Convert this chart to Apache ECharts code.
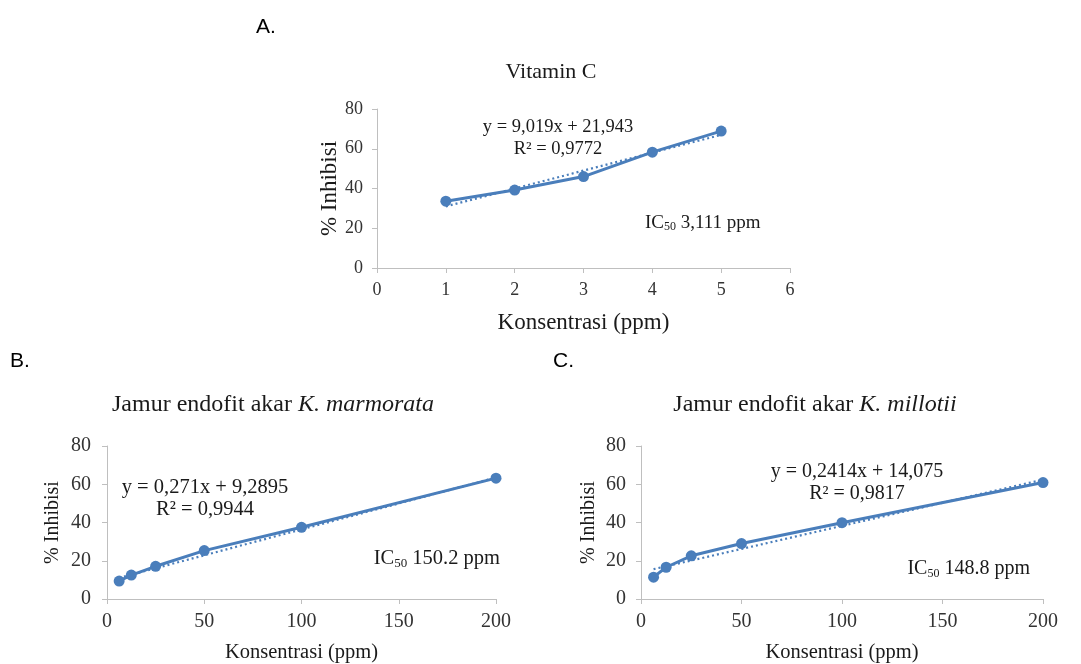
<!DOCTYPE html>
<html>
<head>
<meta charset="utf-8">
<script src="https://cdn.jsdelivr.net/npm/echarts@6/dist/echarts.min.js"></script>
<style>
  html, body { margin: 0; padding: 0; background: #fff; }
  #chart { width: 1081px; height: 664px; }
</style>
</head>
<body>
<div id="chart"></div>
<script>
// --- data ---
const vitCX = [1, 2, 3, 4, 5];
const vitCY = [33.6, 39.2, 46.0, 58.3, 68.9];
const vitCTrend = [[1, 31.0], [5, 67.0]];

const konsX = [6.25, 12.5, 25, 50, 100, 200];
const marmorataY = [9.4, 12.5, 17.1, 25.3, 37.5, 63.2];
const marmorataTrend = [[6.25, 11.0], [200, 63.5]];
const millotiiY = [11.4, 16.6, 22.6, 29.0, 39.9, 60.9];
const millotiiTrend = [[6.25, 15.6], [200, 62.4]];

const yTicks = [0, 20, 40, 60, 80];

const blue = '#4a7ebb';
const serif = '"Liberation Serif", "Times New Roman", serif';
const sans = '"Liberation Sans", Arial, sans-serif';

const pairs = (xs, ys) => xs.map((x, i) => [x, ys[i]]);

const xAxisBase = (gridIndex, max, interval, size, nameSize, gap, margin) => ({
    type: 'value',
    gridIndex: gridIndex,
    min: 0,
    max: max,
    interval: interval,
    name: 'Konsentrasi (ppm)',
    nameLocation: 'middle',
    nameGap: gap,
    nameTextStyle: { fontFamily: serif, fontSize: nameSize, color: '#1a1a1a' },
    splitLine: { show: false },
    axisLine: { onZero: false, lineStyle: { color: '#bfbfbf', width: 1 } },
    axisTick: { show: true, length: 5, lineStyle: { color: '#bfbfbf' } },
    axisLabel: { fontFamily: serif, fontSize: size, color: '#333', margin: margin }
});

const yAxisBase = (gridIndex, size, nameSize, gap, margin) => ({
    type: 'value',
    gridIndex: gridIndex,
    min: 0,
    max: 80,
    interval: 20,
    name: '% Inhibisi',
    nameLocation: 'middle',
    nameGap: gap,
    nameTextStyle: { fontFamily: serif, fontSize: nameSize, color: '#1a1a1a' },
    splitLine: { show: false },
    axisLine: { show: true, lineStyle: { color: '#bfbfbf', width: 1 } },
    axisTick: { show: true, length: 5, lineStyle: { color: '#bfbfbf' } },
    axisLabel: {
        fontFamily: serif, fontSize: size, color: '#333', margin: margin,
        formatter: v => yTicks.indexOf(v) >= 0 ? String(v) : ''
    }
});

const dataSeries = (idx, data) => ({
    type: 'line',
    xAxisIndex: idx,
    yAxisIndex: idx,
    data: data,
    symbol: 'circle',
    symbolSize: 11,
    z: 3,
    lineStyle: { color: blue, width: 3 },
    itemStyle: { color: blue }
});

const trendSeries = (idx, data) => ({
    type: 'line',
    xAxisIndex: idx,
    yAxisIndex: idx,
    data: data,
    symbol: 'none',
    z: 2,
    lineStyle: { color: blue, width: 2.2, type: [2, 3] }
});

const txt = (x, y, text, size, align, extra) => ({
    type: 'text',
    x: x,
    y: y,
    style: Object.assign({
        text: text,
        fontFamily: serif,
        fontSize: size,
        fill: '#1a1a1a',
        textAlign: align || 'center',
        textVerticalAlign: 'middle'
    }, extra || {})
});

const icRich = size => ({
    rich: {
        n: { fontFamily: serif, fontSize: size, fill: '#1a1a1a' },
        s: { fontFamily: serif, fontSize: Math.round(size * 0.62), fill: '#1a1a1a', padding: [size * 0.45, 0, 0, 0] }
    }
});

const titleRich = size => ({
    rich: {
        n: { fontFamily: serif, fontSize: size, fill: '#1a1a1a' },
        i: { fontFamily: serif, fontSize: size, fontStyle: 'italic', fill: '#1a1a1a' }
    }
});

const chart = echarts.init(document.getElementById('chart'));

chart.setOption({
    animation: false,
    grid: [
        { left: 377, top: 109, width: 413, height: 159 },
        { left: 107, top: 446, width: 389, height: 155 },
        { left: 641, top: 446, width: 402, height: 154 }
    ],
    xAxis: [
        xAxisBase(0, 6, 1, 18, 23, 43, 13),
        xAxisBase(1, 200, 50, 20, 20.5, 43, 13),
        xAxisBase(2, 200, 50, 20, 20.5, 43, 13)
    ],
    yAxis: [
        yAxisBase(0, 18, 23, 35, 14),
        yAxisBase(1, 20, 20, 44, 16),
        yAxisBase(2, 20, 20, 42, 15)
    ],
    series: [
        trendSeries(0, vitCTrend),
        dataSeries(0, pairs(vitCX, vitCY)),
        trendSeries(1, marmorataTrend),
        dataSeries(1, pairs(konsX, marmorataY)),
        trendSeries(2, millotiiTrend),
        dataSeries(2, pairs(konsX, millotiiY))
    ],
    graphic: [
        txt(256, 27, 'A.', 21, 'left', { fontFamily: sans, fill: '#000' }),
        txt(10, 361, 'B.', 21, 'left', { fontFamily: sans, fill: '#000' }),
        txt(553, 361, 'C.', 21, 'left', { fontFamily: sans, fill: '#000' }),

        txt(551, 72, 'Vitamin C', 22),
        txt(273, 405, '{n|Jamur endofit akar }{i|K. marmorata}', 24, 'center', titleRich(24)),
        txt(815, 405, '{n|Jamur endofit akar }{i|K. millotii}', 24, 'center', titleRich(24)),

        txt(558, 127, 'y = 9,019x + 21,943', 18.5),
        txt(558, 149, 'R² = 0,9772', 18.5),
        txt(645, 223, '{n|IC}{s|50}{n| 3,111 ppm}', 19, 'left', icRich(19)),

        txt(205, 488, 'y = 0,271x + 9,2895', 20.5),
        txt(205, 510, 'R² = 0,9944', 20.5),
        txt(500, 559, '{n|IC}{s|50}{n| 150.2 ppm}', 20.5, 'right', icRich(20.5)),

        txt(857, 472, 'y = 0,2414x + 14,075', 20),
        txt(857, 494, 'R² = 0,9817', 20),
        txt(1030, 569, '{n|IC}{s|50}{n| 148.8 ppm}', 20, 'right', icRich(20))
    ]
});
</script>
</body>
</html>
